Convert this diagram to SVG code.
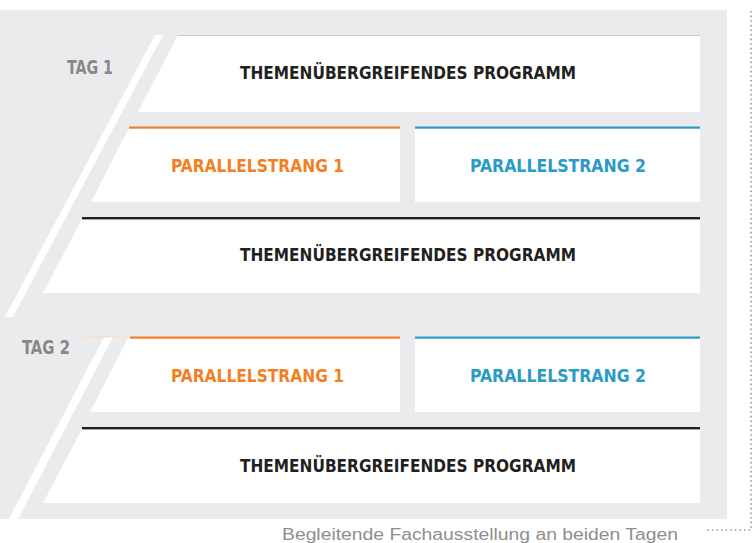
<svg xmlns="http://www.w3.org/2000/svg" width="752" height="543" viewBox="0 0 752 543">
<style>
.bg{fill:#ebebed}
.w{fill:#ffffff}
.t{font-family:"Liberation Sans Narrow","DejaVu Sans Condensed","Liberation Sans",sans-serif;font-weight:bold;text-anchor:middle}
.main{font-size:17px;fill:#231f20}
.par{font-size:18.5px}
.or{fill:#f37f24}
.bl{fill:#2a9ac6}
.tag{font-size:20px;fill:#88888a}
.foot{font-family:"Liberation Sans",Arial,sans-serif;font-weight:normal;font-size:16px;fill:#8e8e8e}
.dot{stroke:#9a9a9a;stroke-width:1.6;stroke-dasharray:1.6 3;fill:none}
</style>
<rect class="bg" x="0" y="10" width="727" height="509"/>
<polygon class="w" points="155,35 163,35 13,317 5,317"/>
<polygon class="w" points="104,337 113,337 18,519 9,519"/>
<g id="tag1"><text class="t tag" x="90" y="74" textLength="46" lengthAdjust="spacingAndGlyphs">TAG 1</text></g>
<g id="tag2"><text class="t tag" x="46" y="354" textLength="48" lengthAdjust="spacingAndGlyphs">TAG 2</text></g>
<g id="d1-prog1">
<polygon class="w" points="178,35 700,35 700,112 138,112"/>
<line x1="178" y1="35.5" x2="700" y2="35.5" stroke="#c9c9cb" stroke-width="1"/>
<text class="t main" x="408" y="79" textLength="336" lengthAdjust="spacingAndGlyphs">THEMENÜBERGREIFENDES PROGRAMM</text>
</g>
<g id="d1-par1">
<polygon class="w" points="129,128 400,128 400,202 91,202"/>
<rect class="or" x="129" y="126.5" width="271" height="2.2"/>
<text class="t par or" x="257.5" y="171.5" textLength="173" lengthAdjust="spacingAndGlyphs">PARALLELSTRANG 1</text>
</g>
<g id="d1-par2">
<rect class="w" x="415" y="128" width="285" height="74"/>
<rect class="bl" x="415" y="126.5" width="285" height="2.2"/>
<text class="t par bl" x="558" y="171.5" textLength="176" lengthAdjust="spacingAndGlyphs">PARALLELSTRANG 2</text>
</g>
<g id="d1-prog2">
<polygon class="w" points="82,219 700,219 700,293 43,293"/>
<rect x="82" y="217" width="618" height="2.4" fill="#231f20"/>
<text class="t main" x="408" y="261" textLength="336" lengthAdjust="spacingAndGlyphs">THEMENÜBERGREIFENDES PROGRAMM</text>
</g>
<g id="d2-par1">
<line x1="82" y1="337" x2="130" y2="337" stroke="#f9d9c3" stroke-width="1"/>
<polygon class="w" points="128,338 400,338 400,412 90,412"/>
<rect class="or" x="130" y="336.5" width="270" height="2.2"/>
<text class="t par or" x="257.5" y="382" textLength="173" lengthAdjust="spacingAndGlyphs">PARALLELSTRANG 1</text>
</g>
<g id="d2-par2">
<rect class="w" x="415" y="338" width="285" height="74"/>
<rect class="bl" x="415" y="336.5" width="285" height="2.2"/>
<text class="t par bl" x="558" y="382" textLength="176" lengthAdjust="spacingAndGlyphs">PARALLELSTRANG 2</text>
</g>
<g id="d2-prog">
<polygon class="w" points="82,429 700,429 700,503 43,503"/>
<rect x="82" y="427" width="618" height="2.4" fill="#231f20"/>
<text class="t main" x="408" y="472" textLength="336" lengthAdjust="spacingAndGlyphs">THEMENÜBERGREIFENDES PROGRAMM</text>
</g>
<g id="connectors">
<path class="dot" d="M751,11 V530 H704"/>
</g>
<g id="exhibition"><text class="foot" x="282" y="540" textLength="396" lengthAdjust="spacingAndGlyphs">Begleitende Fachausstellung an beiden Tagen</text></g>
</svg>
